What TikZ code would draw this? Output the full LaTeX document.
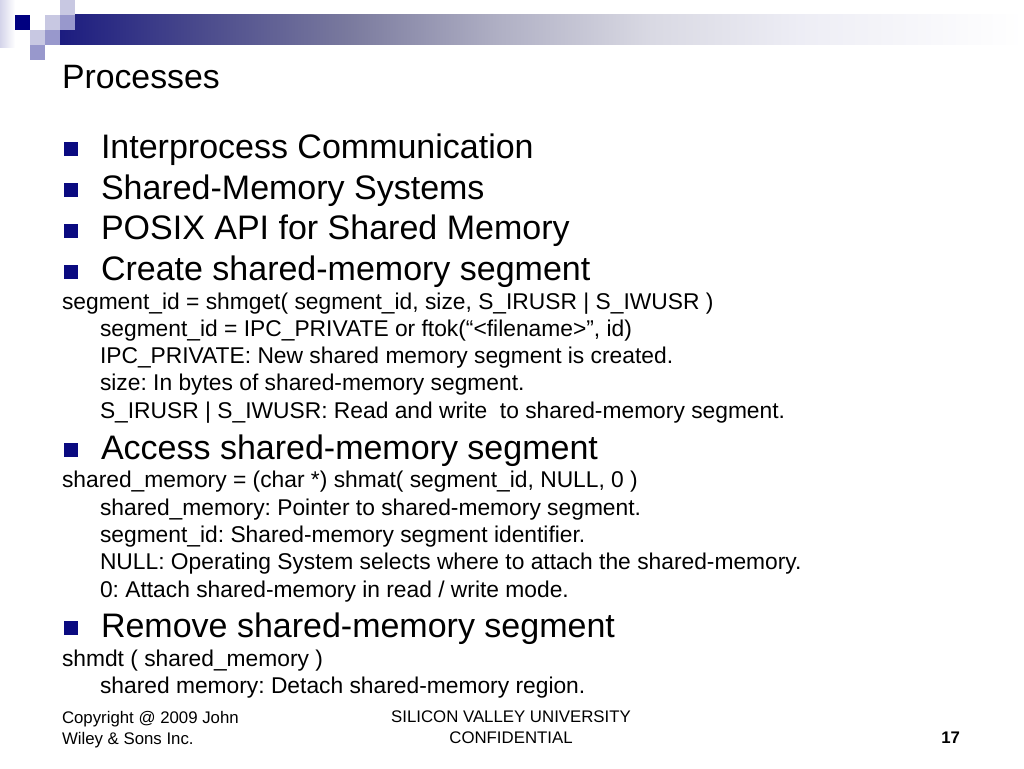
\documentclass[tikz,border=0pt]{standalone}
\usepackage{fontspec}
\setmainfont{Liberation Sans}
\pgfdeclarehorizontalshading{barshade}{100bp}{rgb(0bp)=(0.11,0.11,0.5); rgb(25bp)=(0.11,0.11,0.5); rgb(32.26bp)=(0.29,0.29,0.55); rgb(40.05bp)=(0.48,0.48,0.62); rgb(47.8bp)=(0.69,0.69,0.77); rgb(55.6bp)=(0.85,0.85,0.89); rgb(63.4bp)=(0.93,0.93,0.96); rgb(75bp)=(1,1,1); rgb(100bp)=(1,1,1)}
\begin{document}
\frenchspacing
\begin{tikzpicture}[x=1pt,y=-1pt,
  txt/.style={anchor=base west,inner sep=0pt,outer sep=0pt,text=black},
  titlet/.style={txt,font=\fontsize{33.8}{38}\selectfont},
  bigt/.style={txt,font=\fontsize{34}{40}\selectfont},
  subt/.style={txt,font=\fontsize{22.8}{26}\selectfont},
  foott/.style={inner sep=0pt,outer sep=0pt,anchor=base,font=\fontsize{16.8}{20}\selectfont},
  bul/.style={fill=navyb,draw=none,minimum size=14pt,inner sep=0pt,anchor=center}]
\definecolor{navyb}{HTML}{0A0A80}
\definecolor{sqdark}{HTML}{000080}
\definecolor{sqlight}{HTML}{C8C8E2}
\definecolor{sqmed}{HTML}{9898CC}
\definecolor{edge}{HTML}{D4D4EA}
\useasboundingbox (0,0) rectangle (1024,768);
\fill[white] (0,0) rectangle (1024,768);
% decoration
\shade[left color=edge,right color=white] (0,0) rectangle (15,48);
\shade[shading=barshade] (60,15) rectangle (1024,45);
\fill[sqdark] (15,15) rectangle (30,30);
\fill[sqlight] (45,15) rectangle (60,30);
\fill[sqlight] (60,0) rectangle (75,15);
\fill[sqmed] (60,15) rectangle (75,30);
\fill[sqlight] (30,30) rectangle (45,45);
\fill[sqmed] (45,30) rectangle (60,45);
\fill[sqmed] (30,45) rectangle (45,60);
% title
\node[titlet] (title) at (62,88) {Processes};
% bullets
\node[bul] (b1) at (71,149) {};
\node[bigt] (t1) at (101,158) {Interprocess Communication};
\node[bul] (b2) at (71,190) {};
\node[bigt] (t2) at (101,199) {Shared-Memory Systems};
\node[bul] (b3) at (71,230.5) {};
\node[bigt] (t3) at (101,239.5) {POSIX API for Shared Memory};
\node[bul] (b4) at (71,271.5) {};
\node[bigt] (t4) at (101,280.5) {Create shared-memory segment};
\node[subt] (s11) at (62,309) {segment\_id = shmget( segment\_id, size, S\_IRUSR | S\_IWUSR )};
\node[subt] (s12) at (100,336) {segment\_id = IPC\_PRIVATE or ftok(“<filename>”, id)};
\node[subt] (s13) at (100,363) {IPC\_PRIVATE: New shared memory segment is created.};
\node[subt] (s14) at (100,390) {size: In bytes of shared-memory segment.};
\node[subt] (s15) at (100,418) {S\_IRUSR | S\_IWUSR: Read and write\ \ to shared-memory segment.};
\node[bul] (b5) at (71,450) {};
\node[bigt] (t5) at (101,459) {Access shared-memory segment};
\node[subt] (s21) at (62,487) {shared\_memory = (char *) shmat( segment\_id, NULL, 0 )};
\node[subt] (s22) at (100,515) {shared\_memory: Pointer to shared-memory segment.};
\node[subt] (s23) at (100,542) {segment\_id: Shared-memory segment identifier.};
\node[subt] (s24) at (100,569) {NULL: Operating System selects where to attach the shared-memory.};
\node[subt] (s25) at (100,597) {0: Attach shared-memory in read / write mode.};
\node[bul] (b6) at (71,628) {};
\node[bigt] (t6) at (101,637) {Remove shared-memory segment};
\node[subt] (s31) at (62,666) {shmdt ( shared\_memory )};
\node[subt] (s32) at (100,693) {shared memory: Detach shared-memory region.};
% footer
\node[foott,anchor=base west] (f1) at (62,723) {Copyright @ 2009 John};
\node[foott,anchor=base west] (f2) at (62,744) {Wiley \& Sons Inc.};
\node[foott] (f3) at (511,722) {SILICON VALLEY UNIVERSITY};
\node[foott] (f4) at (511,743) {CONFIDENTIAL};
\node[foott,anchor=base east,font=\fontsize{16.8}{20}\selectfont\bfseries] (f5) at (960,743) {17};
\end{tikzpicture}
\end{document}
